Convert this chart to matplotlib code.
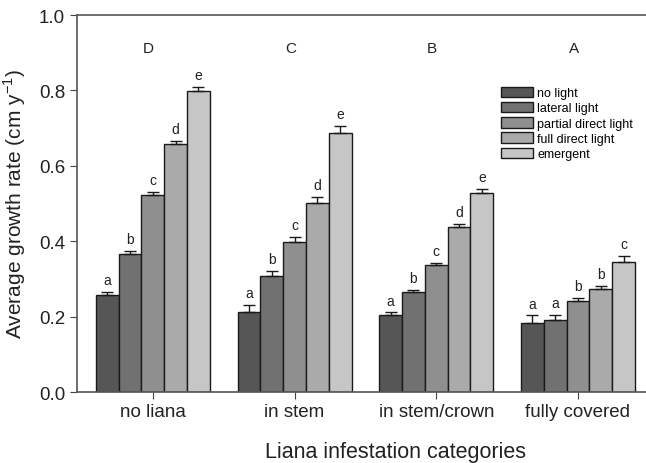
import matplotlib
matplotlib.use("Agg")
import matplotlib.pyplot as plt
import numpy as np

plt.rcParams['font.family'] = ['Liberation Sans', 'DejaVu Sans']

categories = ["no liana", "in stem", "in stem/crown", "fully covered"]
series = ["no light", "lateral light", "partial direct light", "full direct light", "emergent"]
values = {
    "no light":             [0.258, 0.212, 0.203, 0.183],
    "lateral light":        [0.365, 0.307, 0.264, 0.191],
    "partial direct light": [0.522, 0.398, 0.337, 0.241],
    "full direct light":    [0.657, 0.502, 0.438, 0.273],
    "emergent":             [0.798, 0.688, 0.528, 0.345],
}
errors = {
    "no light":             [0.008, 0.018, 0.008, 0.020],
    "lateral light":        [0.008, 0.015, 0.007, 0.013],
    "partial direct light": [0.008, 0.013, 0.006, 0.008],
    "full direct light":    [0.010, 0.016, 0.008, 0.008],
    "emergent":             [0.010, 0.018, 0.010, 0.015],
}
sig_letters = {
    "no light":             ["a", "a", "a", "a"],
    "lateral light":        ["b", "b", "b", "a"],
    "partial direct light": ["c", "c", "c", "b"],
    "full direct light":    ["d", "d", "d", "b"],
    "emergent":             ["e", "e", "e", "c"],
}
group_letters = ["D", "C", "B", "A"]
colors = ["#565656", "#717171", "#8f8f8f", "#aaaaaa", "#c6c6c6"]

fig = plt.figure(figsize=(6.46, 4.64), dpi=100)
ax = fig.add_axes([0.119, 0.153, 0.881, 0.8125])

x = np.arange(len(categories))
w = 0.161
for i, s in enumerate(series):
    pos = x + (i - 2) * w
    ax.bar(pos, values[s], width=w, color=colors[i], edgecolor="#1a1a1a",
           linewidth=1.0, label=s, zorder=2)
    ax.errorbar(pos, values[s], yerr=[np.zeros(4), errors[s]], fmt="none",
                ecolor="#1a1a1a", elinewidth=1.0, capsize=4, capthick=1.0, zorder=3)
    for j in range(len(categories)):
        ax.text(pos[j], values[s][j] + errors[s][j] + 0.013, sig_letters[s][j],
                ha="center", va="bottom", fontsize=10, color="#222222")

for j, g in enumerate(group_letters):
    ax.text(x[j] - 0.03, 0.912, g, ha="center", va="center", fontsize=11, color="#222222")

ax.set_xlim(-0.536, 3.48)
ax.set_ylim(0, 1.0)
ax.set_yticks([0.0, 0.2, 0.4, 0.6, 0.8, 1.0])
ax.set_yticklabels(["0.0", "0.2", "0.4", "0.6", "0.8", "1.0"])
ax.set_xticks(x)
ax.set_xticklabels(categories)
ax.tick_params(axis="both", labelsize=13.5, direction="out", length=5, color="#444444", labelcolor="#222222")
ax.tick_params(axis="x", pad=3)
for sp in ["left", "top", "bottom"]:
    ax.spines[sp].set_color("#555555")
    ax.spines[sp].set_linewidth(1.2)
ax.spines["right"].set_visible(False)

ax.set_xlabel("Liana infestation categories", fontsize=15.5, color="#222222")
ax.xaxis.set_label_coords(0.559, -0.13)
ax.set_ylabel("Average growth rate (cm y$^{\\mathregular{-1}}$)", fontsize=15, labelpad=8, color="#222222")

leg = ax.legend(loc="upper left", bbox_to_anchor=(0.746, 0.81), frameon=False, fontsize=9,
                handlelength=2.5, handleheight=0.9, labelspacing=0.22, handletextpad=0.35,
                borderaxespad=0, borderpad=0)

fig.savefig("out.png", dpi=100)
